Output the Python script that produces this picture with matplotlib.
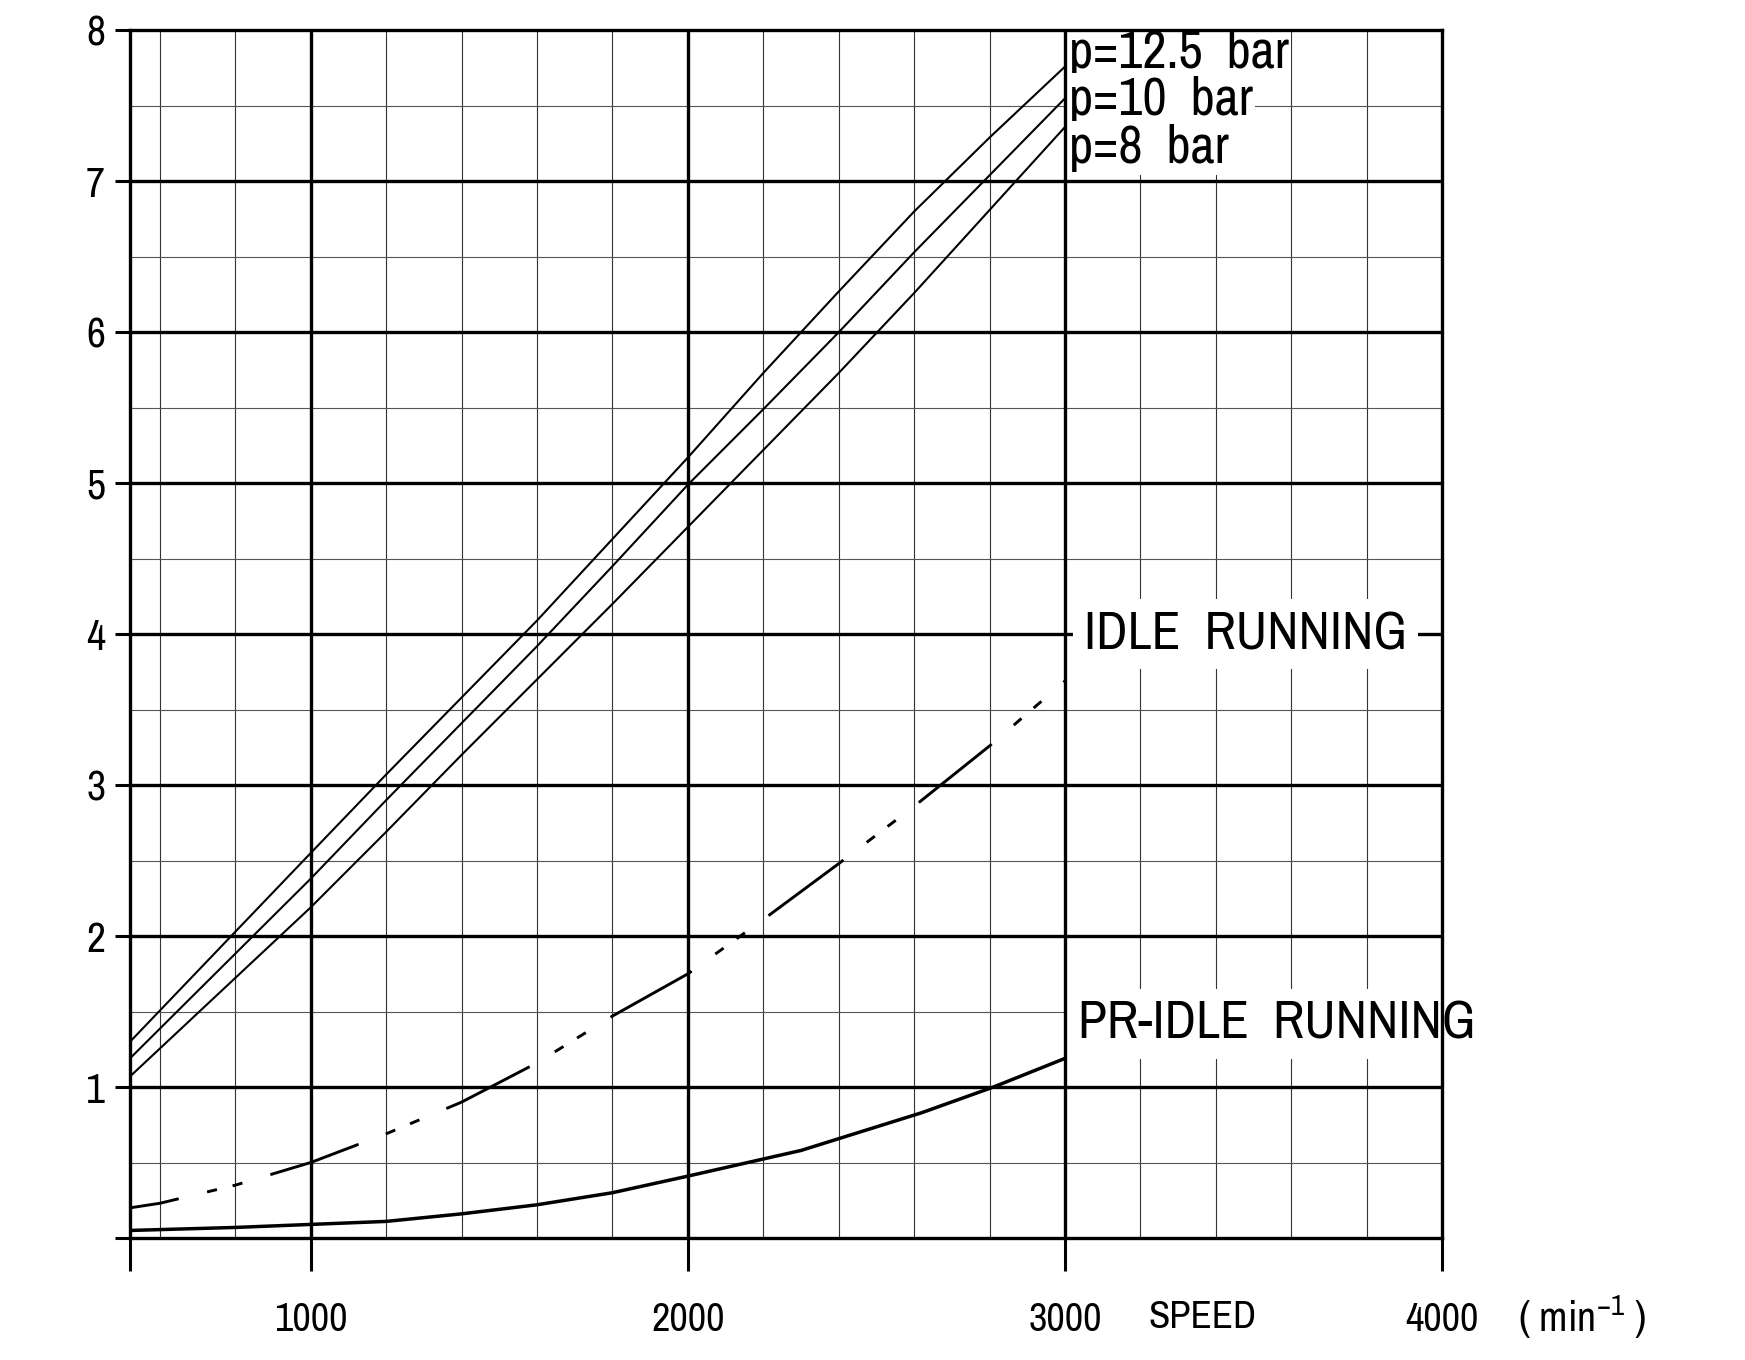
import numpy as np
import matplotlib.pyplot as plt

# speed (min^-1) and power values
speed = [521, 1000, 1200, 1400, 1600, 1800, 2000, 2200, 2400, 2600, 2800, 3000]
p125 = [1.30, 2.55, 3.07, 3.58, 4.09, 4.63, 5.17, 5.73, 6.27, 6.80, 7.29, 7.76]
p10 = [1.19, 2.38, 2.90, 3.41, 3.92, 4.45, 4.99, 5.49, 6.00, 6.53, 7.04, 7.55]
p8 = [1.07, 2.19, 2.69, 3.20, 3.70, 4.20, 4.71, 5.22, 5.73, 6.26, 6.81, 7.36]

idle_speed = [521, 600, 800, 1000, 1200, 1400, 1600, 1800, 2000, 2200, 2400, 2600, 2800, 3000]
idle = [0.20, 0.23, 0.35, 0.50, 0.69, 0.90, 1.16, 1.47, 1.75, 2.11, 2.48, 2.86, 3.26, 3.69]

pr_speed = [521, 800, 1000, 1200, 1400, 1600, 1800, 2000, 2300, 2620, 2810, 3000]
pr_idle = [0.05, 0.07, 0.09, 0.11, 0.16, 0.22, 0.30, 0.41, 0.58, 0.83, 1.00, 1.19]

x_ticks = [521, 1000, 2000, 3000, 4000]
x_labels = ['', '1000', '2000', '3000', '4000']
y_ticks = [0, 1, 2, 3, 4, 5, 6, 7, 8]
y_labels = ['', '1', '2', '3', '4', '5', '6', '7', '8']
pressure_labels = ['p=12.5  bar', 'p=10  bar', 'p=8  bar']
pressure_label_y = [7.85, 7.54, 7.22]

plt.rcParams['font.family'] = ['Archivo Narrow', 'Liberation Sans Narrow', 'DejaVu Sans']
plt.rcParams['mathtext.fontset'] = 'custom'
plt.rcParams['mathtext.rm'] = 'Archivo Narrow'

fig = plt.figure(figsize=(17.45, 13.6), dpi=100)
ax = fig.add_axes([0.0745, 0.0897, 0.752, 0.888])
ax.set_xlim(521, 4000)
ax.set_ylim(0, 8)

# grid
for x in range(600, 4000, 200):
    if x % 1000:
        ax.axvline(x, color='#333333', lw=0.8, zorder=1)
for y in np.arange(0.5, 8, 1.0):
    ax.axhline(y, color='#555555', lw=0.8, zorder=1)
for x in [1000, 2000]:
    ax.axvline(x, color='black', lw=2.4, zorder=1.5)
ax.axvline(3000, color='black', lw=2.4, zorder=3)
for y in range(1, 8):
    ax.axhline(y, color='black', lw=2.4, zorder=1.5)

# curves
ax.plot(speed, p125, color='black', lw=1.5, zorder=4)
ax.plot(speed, p10, color='black', lw=1.5, zorder=4)
ax.plot(speed, p8, color='black', lw=1.5, zorder=4)
ax.plot(idle_speed, idle, color='black', lw=2.1,
        linestyle=(15, (32, 10, 3.5, 5.5, 3.5, 10)), zorder=4)
ax.plot(pr_speed, pr_idle, color='black', lw=2.5, zorder=4)

box = dict(facecolor='white', edgecolor='none', pad=2)
for lab, yy in zip(pressure_labels, pressure_label_y):
    ax.text(3010, yy, lab, fontsize=38, ha='left', va='center',
            bbox=box, zorder=2)
ax.text(3050, 4.0, 'IDLE  RUNNING', fontsize=38, ha='left', va='center',
        bbox=dict(facecolor='white', edgecolor='none', pad=8), zorder=2)
ax.text(3035, 1.42, 'PR-IDLE  RUNNING', fontsize=38, ha='left', va='center',
        bbox=dict(facecolor='white', edgecolor='none', pad=8), zorder=2)

for s in ax.spines.values():
    s.set_linewidth(2.4)
    s.set_zorder(5)

ax.set_xticks(x_ticks)
ax.set_xticklabels(x_labels)
ax.set_yticks(y_ticks)
ax.set_yticklabels(y_labels)
ax.tick_params(axis='x', direction='out', length=24, width=2.2, pad=21, labelsize=29)
ax.tick_params(axis='y', direction='out', length=11, width=2.2, pad=7, labelsize=30)

ax.text(3365, -0.066, 'SPEED', fontsize=28, ha='center', va='center',
        transform=ax.get_xaxis_transform())
ax.text(4370, -0.066, '( min$^{\\mathregular{-1}}$ )', fontsize=30, ha='center',
        va='center', transform=ax.get_xaxis_transform())

fig.savefig('out.png', dpi=100)
